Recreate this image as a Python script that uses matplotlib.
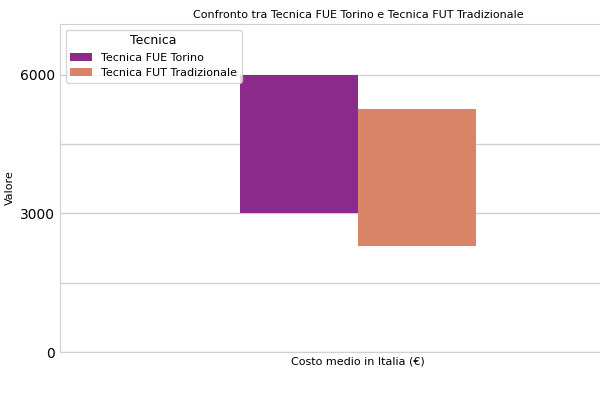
import matplotlib
matplotlib.use("Agg")
import matplotlib.pyplot as plt

category = "Costo medio in Italia (€)"
techniques = ["Tecnica FUE Torino", "Tecnica FUT Tradizionale"]
low = [3000, 2300]
high = [6000, 5250]
colors = ["#8b2a8b", "#d98466"]

fig = plt.figure(figsize=(6, 4), dpi=100)
ax = fig.add_axes([0.10, 0.12, 0.993, 0.82])
w = 0.198
offs = [-w/2, w/2]
for t, lo, hi, c, o in zip(techniques, low, high, colors, offs):
    ax.bar(o, hi - lo, bottom=lo, width=w, color=c, label=t)
ax.set_xlim(-0.5, 0.5)
ax.set_ylim(0, 7100)
ax.set_yticks([0, 1500, 3000, 4500, 6000])
ax.set_yticklabels(["0", "", "3000", "", "6000"])
ax.set_xticks([0])
ax.set_xticklabels([category], fontsize=8)
ax.tick_params(length=0)
ax.grid(axis="y", color="#d0d0d0", linewidth=1)
ax.set_axisbelow(True)
ax.spines["right"].set_visible(False)
for s in ["left", "bottom", "top"]:
    ax.spines[s].set_color("#d0d0d0")
ax.set_ylabel("Valore", fontsize=8)
ax.set_title("Confronto tra Tecnica FUE Torino e Tecnica FUT Tradizionale", fontsize=8, pad=4)
ax.legend(title="Tecnica", loc="upper left", fontsize=8, title_fontsize=9)
fig.savefig("out.png")
